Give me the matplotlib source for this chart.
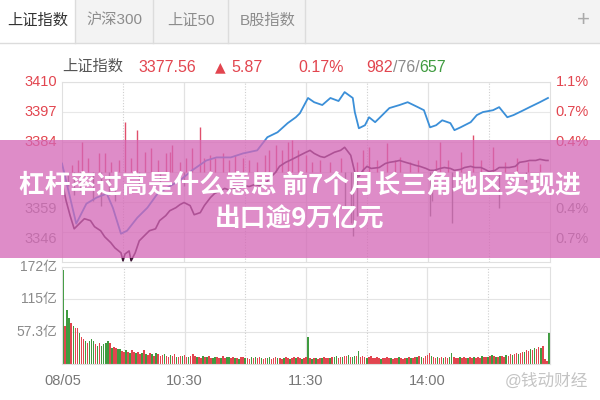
import matplotlib
matplotlib.use('Agg')
import matplotlib.pyplot as plt
from matplotlib.patches import Rectangle
from matplotlib.lines import Line2D

plt.rcParams['font.family'] = ['Liberation Sans', 'Noto Sans CJK SC', 'DejaVu Sans']

# ---- data ----
prev_close = 3371.69
tabs = ['上证指数', '沪深300', '上证50', 'B股指数']

blue_min = [0, 7, 12, 17, 22, 25, 29, 32, 37, 42, 47, 52, 58, 64, 71, 76, 83, 89, 96, 101,
            106, 111, 115, 117, 121, 124, 128, 132, 136, 139, 143, 144, 146, 149, 151, 154, 156, 161, 166, 170,
            175, 178, 181, 184, 187, 191, 193, 196, 201, 204, 207, 212, 215, 219, 222, 227, 230, 235, 239]
blue_px = [3375.3, 3349.7, 3358.2, 3360.8, 3362.5, 3356.5, 3345.4, 3346.7, 3352.2, 3356.5,
           3362.5, 3365.1, 3368.1, 3372.4, 3376.6, 3377.9, 3377.9, 3379.6, 3380.9, 3386.5,
           3388.6, 3392.5, 3395.0, 3396.7, 3403.2, 3401.4, 3400.2, 3403.2, 3401.9, 3405.7,
           3403.2, 3397.2, 3390.3, 3391.6, 3395.0, 3392.9, 3394.6, 3398.9, 3400.2, 3401.4,
           3399.3, 3398.0, 3390.7, 3391.6, 3393.7, 3392.5, 3389.5, 3390.7, 3392.9, 3395.9,
           3397.2, 3398.0, 3399.3, 3395.0, 3395.9, 3398.0, 3399.3, 3401.4, 3403.2]

dark_min = [0, 2, 4, 6, 9, 11, 14, 16, 19, 21, 24, 26, 29, 30, 31, 33, 34, 36, 38, 41,
            43, 46, 48, 51, 53, 56, 58, 60, 63, 65, 68, 70, 73, 75, 78, 80, 83, 85, 88, 90,
            92, 95, 97, 100, 102, 105, 107, 110, 112, 115, 117, 120, 122, 124, 127, 129, 132, 134, 137, 139,
            142, 144, 146, 148, 150, 152, 156, 159, 161, 164, 166, 169, 171, 174, 176, 179, 181, 183, 186, 188,
            191, 193, 196, 198, 201, 203, 206, 208, 210, 213, 215, 218, 220, 223, 225, 228, 230, 233, 235, 238, 239]
dark_px = [3368.1, 3359.5, 3353.1, 3347.5, 3350.1, 3351.8, 3351.0, 3348.4, 3346.7, 3344.1,
           3341.6, 3339.4, 3337.3, 3333.9, 3336.8, 3338.1, 3333.9, 3337.3, 3342.4, 3345.0,
           3346.7, 3347.5, 3351.0, 3353.1, 3355.2, 3356.5, 3357.8, 3358.7, 3357.4, 3353.5,
           3354.4, 3357.4, 3360.8, 3362.5, 3363.8, 3364.7, 3363.8, 3364.7, 3365.1, 3365.9,
           3365.5, 3366.4, 3365.9, 3366.8, 3368.9, 3371.5, 3374.1, 3375.8, 3376.6, 3377.9,
           3378.8, 3380.1, 3380.9, 3379.6, 3378.3, 3377.9, 3379.2, 3380.1, 3380.9, 3382.2,
           3378.8, 3371.5, 3369.8, 3372.4, 3374.1, 3373.2, 3373.6, 3375.3, 3375.8, 3376.2,
           3376.6, 3375.8, 3375.3, 3374.5, 3374.1, 3373.2, 3372.4, 3372.4, 3373.2, 3373.6,
           3373.2, 3372.4, 3372.8, 3373.6, 3374.1, 3373.6, 3373.6, 3372.8, 3371.9, 3372.4,
           3373.6, 3373.6, 3373.6, 3374.1, 3375.8, 3376.2, 3376.6, 3376.6, 3377.1, 3376.6, 3376.6]

# red (up) and grey (down) strength spikes around the previous close
up_min = [5, 8, 10, 13, 18, 21, 24, 28, 31, 34, 37, 41, 44, 47, 51, 53, 54, 58, 61, 64,
          68, 70, 73, 75, 79, 82, 85, 89, 92, 96, 100, 102, 105, 108, 111, 113, 116, 120, 123, 127,
          132, 137, 145, 148, 151, 155, 160, 164, 166, 171, 175, 184, 186, 190, 196, 202, 206, 212, 218, 224,
          229, 235]
up_val = [2.8, 4.9, 12.6, 5.8, 7.9, 7.9, 4.1, 4.9, 21.2, 5.8, 17.8, 8.4, 10.1, 4.9, 7.9, 8.4, 11.3, 4.1, 5.8, 10.1,
          19.0, 5.8, 7.1, 5.8, 7.9, 4.9, 7.1, 5.8, 4.9, 4.1, 7.1, 9.2, 11.3, 9.2, 12.6, 13.5, 9.2, 7.1, 4.1, 4.9,
          4.1, 5.8, 4.1, 9.2, 10.5, 4.9, 12.2, 4.9, 6.2, 4.1, 4.9, 4.9, 12.6, 4.9, 8.4, 15.6, 4.9, 10.5, 4.1, 5.8,
          4.1, 3.2]
dn_min = [3, 6, 9, 15, 19, 23, 26, 38, 48, 60, 95, 139, 142, 143, 145, 181, 182, 192, 200, 215, 228]
dn_val = [-5.8, -10.0, -7.9, -12.2, -14.3, -10.0, -12.2, -5.8, -7.9, -5.8, -4.3, -14.3, -21.6, -27.2,
          -18.6, -18.6, -12.2, -21.6, -5.8, -15.2, -4.3]

# volume per minute in 亿, sign = colour (+ red, - green)
vol = [-166, 68, -95, -81, 72, -68, 64, 64, -55, 47,
       45, -41, 38, -41, -45, -41, 36, -32, 38, -32,
       -36, -38, -41, 38, -29, 30, 29, -27, -27, 23,
       21, -24, 22, -20, 25, 22, -19, 21, 18, -20,
       24, -18, 16, 20, -17, 15, -19, 18, 14, 16,
       -18, 15, 13, -16, 14, 17, -13, 12, 15, -14,
       16, 13, -12, 14, 18, 15, -13, 12, 11, -14,
       13, -12, 15, 11, -10, -13, 12, 10, -11, 14,
       11, -12, -13, 10, 12, -11, 10, -9, 12, 13,
       -10, 11, 9, -12, 10, -13, 11, 12, -10, 9,
       11, -10, -12, 9, 10, 12, -11, 10, 9, -10,
       12, 11, -9, 10, 13, -11, 12, 10, -9, 11,
       12, -47, 10, -9, 11, -10, 9, 10, -11, 12,
       10, 11, -10, 12, -13, -14, 11, 12, -13, 15,
       14, -16, 13, -12, -15, 14, -23, 13, 15, 12,
       -11, 12, 14, 11, 10, 12, 11, -9, 10, 11,
       12, 10, -11, 9, 10, 11, -12, 10, 9, 11,
       -10, 12, -11, 10, 12, -13, 14, -12, 11, 15,
       16, 20, -14, 12, 11, -13, 10, 12, -11, 12,
       10, -13, -20, 12, 11, 10, -12, 11, 13, 10,
       -11, 12, 10, -13, 11, 12, 10, -14, 13, 12,
       -12, 15, -16, 14, -13, 12, -15, 14, 13, -16,
       15, 17, -16, 18, 19, -17, 20, 22, -21, 24,
       23, -26, 25, -28, 27, 30, -29, 32, 8, 5,
       -55]

grid_ticks = [3410, 3397.2, 3384.5, 3371.7, 3358.9, 3346.2]
price_ticks = [3410, 3397.2, 3384.5, 3358.9, 3346.2]
price_labels = ['3410', '3397', '3384', '3359', '3346']
pct_labels = ['1.1%', '0.7%', '0.4%', '0.4%', '0.7%']
vol_ticks = [57.3, 115, 172]
vol_labels = ['57.3亿', '115亿', '172亿']
time_ticks = [0, 60, 120, 180]
time_labels = ['08/05', '10:30', '11:30', '14:00']

RED = '#e2454f'
GREEN = '#3f9b3f'
GRAY = '#8a8a8a'


def fx(x):
    return x / 600


def fy(y):
    return 1 - y / 400


fig = plt.figure(figsize=(6, 4), dpi=100)
fig.patch.set_facecolor('white')
rend = fig.canvas.get_renderer()

# tab bar
fig.patches.append(Rectangle((0, fy(43)), 1, 43 / 400, transform=fig.transFigure,
                             facecolor='#f3f3f3', edgecolor='none', zorder=0))
fig.patches.append(Rectangle((0, fy(43)), fx(75), 43 / 400, transform=fig.transFigure,
                             facecolor='white', edgecolor='none', zorder=0))
for sx in [75, 153, 228, 305]:
    fig.lines.append(Line2D([fx(sx), fx(sx)], [fy(0), fy(43)], transform=fig.transFigure,
                            color='#dcdcdc', lw=1))
fig.lines.append(Line2D([0, 1], [fy(43), fy(43)], transform=fig.transFigure, color='#dcdcdc', lw=1))
for i, (t, cx) in enumerate(zip(tabs, [38, 114, 191, 268])):
    fig.text(fx(cx), fy(21), t, ha='center', va='center', fontsize=11,
             color='#333333' if i == 0 else '#8c8c8c')
fig.text(fx(583), fy(20), '+', ha='center', va='center', fontsize=16, color='#aaaaaa')

# header line
fig.text(fx(62), fy(67), '上证指数', ha='left', va='center', fontsize=11, color='#555555')
fig.text(fx(138), fy(67), '3377.56', ha='left', va='center', fontsize=11.5, color=RED)
fig.text(fx(215), fy(67), '▲', ha='left', va='center', fontsize=10, color=RED, family='DejaVu Sans')
fig.text(fx(231), fy(67), '5.87', ha='left', va='center', fontsize=11.5, color=RED)
fig.text(fx(298), fy(67), '0.17%', ha='left', va='center', fontsize=11.5, color=RED)
xpos = fx(366)
for s, c in [('982', RED), ('/76/', GRAY), ('657', GREEN)]:
    t = fig.text(xpos, fy(67), s, ha='left', va='center', fontsize=11.5, color=c)
    xpos = t.get_window_extent(rend).x1 / 600

# price panel
ax = fig.add_axes([fx(62), fy(262), 488 / 600, 180 / 400])
span = 3410 - prev_close
ax.set_ylim(prev_close - span, prev_close + span)
ax.set_xlim(0, 240)
for v in grid_ticks:
    ax.axhline(v, color='#e8e8e8', lw=0.8, zorder=0)
for m in [30, 90, 150, 210]:
    ax.axvline(m, color='#cfcfcf', lw=0.8, ls=(0, (1, 1.5)), zorder=0)
for m in [60, 120, 180]:
    ax.axvline(m, color='#e2e2e2', lw=0.9, zorder=0)
ax.vlines(up_min, prev_close, [prev_close + v for v in up_val], color='#e0506c', lw=1.0, zorder=1)
ax.vlines(dn_min, prev_close, [prev_close + v for v in dn_val], color='#7a7a7a', lw=1.0, zorder=1)
ax.plot(blue_min, blue_px, color='#3b8fd8', lw=1.3, zorder=3)
ax.plot(dark_min, dark_px, color='#3e1736', lw=1.2, zorder=3)
ax.set_xticks([])
ax.set_yticks([])
for s in ax.spines.values():
    s.set_color('#e0e0e0')
    s.set_linewidth(0.8)

for i, (v, lab, pl) in enumerate(zip(price_ticks, price_labels, pct_labels)):
    upper = i < 3
    col = RED if upper else GRAY
    va = 'center' if upper else 'top'
    ax.text(-0.01, v, lab, transform=ax.get_yaxis_transform(), ha='right', va=va,
            fontsize=10.5, color=col)
    ax.text(1.012, v, pl, transform=ax.get_yaxis_transform(), ha='left', va=va,
            fontsize=10.5, color=col)

# volume panel
axv = fig.add_axes([fx(62), fy(364), 488 / 600, 97 / 400])
axv.set_xlim(-0.6, 240.6)
axv.set_ylim(0, 172)
axv.bar(range(len(vol)), [abs(v) for v in vol], width=0.8,
        color=[RED if v > 0 else GREEN for v in vol], linewidth=0, antialiased=False, zorder=2)
for v in vol_ticks:
    axv.axhline(v, color='#e4e4e4', lw=0.8, zorder=0)
for m in [30, 90, 150, 210]:
    axv.axvline(m, color='#cfcfcf', lw=0.8, ls=(0, (1, 1.5)), zorder=0)
for m in [60, 120, 180]:
    axv.axvline(m, color='#e2e2e2', lw=0.9, zorder=0)
axv.set_xticks([])
axv.set_yticks([])
for s in axv.spines.values():
    s.set_color('#e0e0e0')
    s.set_linewidth(0.8)
for v, lab in zip(vol_ticks, vol_labels):
    axv.text(-0.01, v, lab, transform=axv.get_yaxis_transform(), ha='right', va='center',
             fontsize=10, color=GRAY)
for m, lab in zip(time_ticks, time_labels):
    axv.text(m, -0.1, lab, transform=axv.get_xaxis_transform(), ha='center', va='top',
             fontsize=10.5, color='#777777')

# watermark
fig.text(fx(505), fy(381), '@钱动财经', ha='left', va='center', fontsize=12, color='#c4c4c4')

# pink title banner over the chart
fig.patches.append(Rectangle((0, fy(258)), 1, 118 / 400, transform=fig.transFigure,
                             facecolor='#d466b6', edgecolor='none', alpha=0.75, zorder=10))
fig.text(0.5, fy(185), '杠杆率过高是什么意思 前7个月长三角地区实现进', ha='center', va='center',
         fontsize=18.5, fontweight='bold', color='white', family=['Noto Sans CJK SC'], zorder=11)
fig.text(0.5, fy(218), '出口逾9万亿元', ha='center', va='center',
         fontsize=18.5, fontweight='bold', color='white', family=['Noto Sans CJK SC'], zorder=11)

fig.savefig('out.png', dpi=100)
